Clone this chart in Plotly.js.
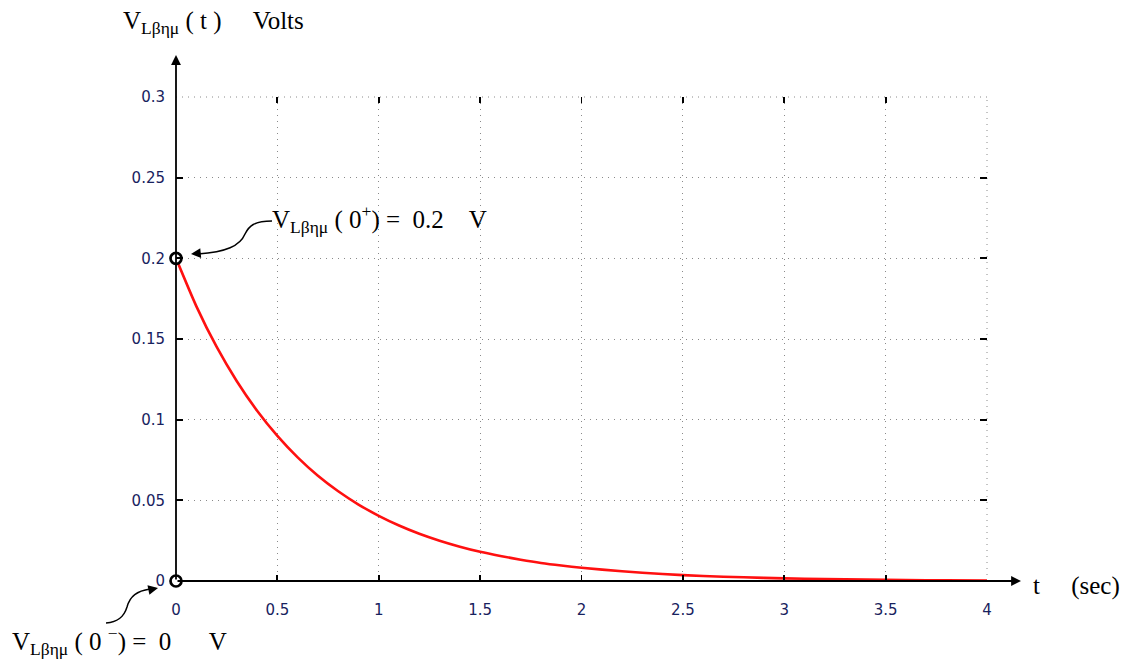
<!DOCTYPE html>
<html>
<head>
<meta charset="utf-8">
<script src="https://cdn.plot.ly/plotly-3.0.1.min.js"></script>
<style>
  html, body { margin: 0; padding: 0; background: #fff; }
  #chart { width: 1126px; height: 661px; }
</style>
</head>
<body>
<div id="chart"></div>
<script>
// Inductor voltage after the switch closes (volts vs seconds)
const timeSec = [0, 0.1, 0.2, 0.3, 0.4, 0.5, 0.6, 0.7, 0.8, 0.9, 1.0,
                 1.1, 1.2, 1.3, 1.4, 1.5, 1.6, 1.7, 1.8, 1.9, 2.0,
                 2.2, 2.4, 2.6, 2.8, 3.0, 3.2, 3.4, 3.6, 3.8, 4.0];
const vInductor = [0.2, 0.1704, 0.1452, 0.1238, 0.1055, 0.0899, 0.0766, 0.0652, 0.0556, 0.0474, 0.0404,
                   0.0344, 0.0293, 0.0250, 0.0213, 0.0181, 0.0155, 0.0132, 0.0112, 0.0096, 0.0082,
                   0.0060, 0.0043, 0.0031, 0.0023, 0.0016, 0.0012, 0.0009, 0.0006, 0.0004, 0.0003];

// Initial conditions just before and just after t = 0
const initTime = [0, 0];
const initVolt = [0, 0.2];

const xTicks = [0, 0.5, 1, 1.5, 2, 2.5, 3, 3.5, 4];
const xTickText = ['0', '0.5', '1', '1.5', '2', '2.5', '3', '3.5', '4'];
const yTicks = [0, 0.05, 0.1, 0.15, 0.2, 0.25, 0.3];
const yTickText = ['0', '0.05', '0.1', '0.15', '0.2', '0.25', '0.3'];

const W = 1126, H = 661;
const M = { l: 176, r: 139, t: 97, b: 80 };
const X_RANGE = [0, 4], Y_RANGE = [0, 0.3];
const PW = W - M.l - M.r, PH = H - M.t - M.b;

// page pixel -> paper coordinates, used for the decorations only
function px(x) { return (x - M.l) / PW; }
function py(y) { return (H - M.b - y) / PH; }
function pathFrom(segs) {
  return segs.map(seg => {
    const nums = [];
    for (let i = 1; i < seg.length; i += 2) {
      nums.push(px(seg[i]).toFixed(5) + ',' + py(seg[i + 1]).toFixed(5));
    }
    return seg[0] + ' ' + nums.join(' ');
  }).join(' ');
}

const serif = 'Liberation Serif, Times New Roman, serif';
const tickFont = { family: 'DejaVu Sans, Verdana, sans-serif', size: 15, color: '#18225e' };
const NB = '\u00a0';

const traces = [
  {
    x: timeSec, y: vInductor, type: 'scatter', mode: 'lines',
    line: { color: '#ff1010', width: 2.6, shape: 'spline', smoothing: 0.6 },
    cliponaxis: false, hoverinfo: 'skip'
  },
  {
    x: initTime, y: initVolt, type: 'scatter', mode: 'markers',
    marker: { symbol: 'circle', size: 11, color: '#ffffff', line: { color: '#000', width: 2.7 } },
    cliponaxis: false, hoverinfo: 'skip'
  }
];

const arrowStyle = { text: '', showarrow: true, arrowhead: 2, arrowcolor: '#000' };
const labelStyle = { xref: 'paper', yref: 'paper', xanchor: 'left', yanchor: 'middle', showarrow: false,
                     font: { family: serif, size: 25, color: '#000' } };

const annotations = [
  // axis arrows
  Object.assign({ xref: 'paper', yref: 'paper', axref: 'paper', ayref: 'paper',
    x: 0, y: py(55), ax: 0, ay: 0, arrowsize: 1.1, arrowwidth: 1.8 }, arrowStyle),
  Object.assign({ xref: 'paper', yref: 'paper', axref: 'paper', ayref: 'paper',
    x: px(1021), y: 0, ax: 0, ay: 0, arrowsize: 1.1, arrowwidth: 1.8 }, arrowStyle),
  // axis titles
  Object.assign({ x: px(121), y: py(23),
    text: 'V<sub>Lβημ</sub>' + NB + '(' + NB + 't' + NB + ')' + NB.repeat(5) + 'Volts' }, labelStyle),
  Object.assign({ x: px(1031), y: py(586),
    text: 't' + NB.repeat(5) + '(sec)' }, labelStyle),
  // initial-value labels
  Object.assign({ x: px(270), y: py(219),
    text: 'V<sub>Lβημ</sub>' + NB + '(' + NB + '0<sup>+</sup>)' + NB + '=' + NB + NB + '0.2' + NB.repeat(4) + 'V' }, labelStyle),
  Object.assign({ x: px(10), y: py(641),
    text: 'V<sub>Lβημ</sub>' + NB + '(' + NB + '0' + NB + '<sup>\u2212</sup>)' + NB + '=' + NB + NB + '0' + NB.repeat(6) + 'V' }, labelStyle),
  // arrowheads at the ends of the curved leaders
  Object.assign({ xref: 'paper', yref: 'paper', x: px(191), y: py(254), ax: 11, ay: -1,
    arrowsize: 1.3, arrowwidth: 1.5 }, arrowStyle),
  Object.assign({ xref: 'paper', yref: 'paper', x: px(158), y: py(588), ax: -10, ay: 2,
    arrowsize: 1.3, arrowwidth: 1.5 }, arrowStyle)
];

const gridColor = '#8a8a8a';
const gridDash = '1px,5px';
const shapes = [
  // curved leader lines
  { type: 'path', xref: 'paper', yref: 'paper', line: { color: '#000', width: 1.5 },
    path: pathFrom([['M', 272, 221], ['C', 254, 221, 249, 226, 245, 234], ['C', 240, 246, 226, 252, 198, 254]]) },
  { type: 'path', xref: 'paper', yref: 'paper', line: { color: '#000', width: 1.5 },
    path: pathFrom([['M', 106, 623], ['C', 118, 622, 124, 617, 127, 607], ['C', 130, 596, 137, 591, 150, 589]]) },
  // grid lines along the upper and right edges
  { type: 'line', xref: 'paper', yref: 'paper', x0: 0, x1: 1, y0: 1, y1: 1, layer: 'below',
    line: { color: gridColor, width: 1, dash: gridDash } },
  { type: 'line', xref: 'paper', yref: 'paper', x0: 1, x1: 1, y0: 0, y1: 1, layer: 'below',
    line: { color: gridColor, width: 1, dash: gridDash } }
];

const layout = {
  width: W, height: H,
  margin: M,
  paper_bgcolor: '#fff', plot_bgcolor: '#fff',
  showlegend: false,
  xaxis: {
    range: X_RANGE, tickmode: 'array', tickvals: xTicks, ticktext: xTickText,
    showline: false, zeroline: false,
    showgrid: true, gridcolor: gridColor, gridwidth: 1, griddash: gridDash,
    ticks: 'inside', ticklen: 6, tickwidth: 1.8, tickcolor: '#000', mirror: 'ticks',
    tickfont: tickFont, ticklabelstandoff: 18, fixedrange: true
  },
  yaxis: {
    range: Y_RANGE, tickmode: 'array', tickvals: yTicks, ticktext: yTickText,
    showline: false, zeroline: false,
    showgrid: true, gridcolor: gridColor, gridwidth: 1, griddash: gridDash,
    ticks: 'inside', ticklen: 7, tickwidth: 1.8, tickcolor: '#000', mirror: 'ticks',
    tickfont: tickFont, ticklabelstandoff: 10, fixedrange: true
  },
  annotations: annotations,
  shapes: shapes
};

Plotly.newPlot('chart', traces, layout, { displayModeBar: false, staticPlot: true });
</script>
</body>
</html>
